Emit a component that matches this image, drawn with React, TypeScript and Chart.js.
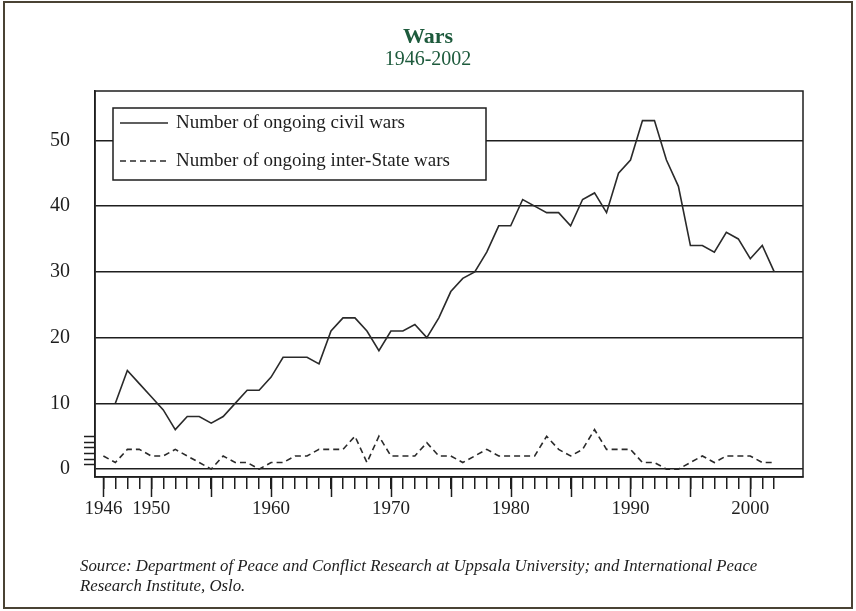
import React, { useEffect, useRef } from "react";
import { Chart, registerables } from "chart.js";

Chart.register(...registerables);

const years = [
  1946, 1947, 1948, 1949, 1950, 1951, 1952, 1953, 1954, 1955,
  1956, 1957, 1958, 1959, 1960, 1961, 1962, 1963, 1964, 1965,
  1966, 1967, 1968, 1969, 1970, 1971, 1972, 1973, 1974, 1975,
  1976, 1977, 1978, 1979, 1980, 1981, 1982, 1983, 1984, 1985,
  1986, 1987, 1988, 1989, 1990, 1991, 1992, 1993, 1994, 1995,
  1996, 1997, 1998, 1999, 2000, 2001, 2002,
];

const civilWars: (number | null)[] = [
  null, 10, 15, 13, 11, 9, 6, 8, 8, 7,
  8, 10, 12, 12, 14, 17, 17, 17, 16, 21,
  23, 23, 21, 18, 21, 21, 22, 20, 23, 27,
  29, 30, 33, 37, 37, 41, 40, 39, 39, 37,
  41, 42, 39, 45, 47, 53, 53, 47, 43, 34,
  34, 33, 36, 35, 32, 34, 30,
];

const interStateWars: number[] = [
  2, 1, 3, 3, 2, 2, 3, 2, 1, 0,
  2, 1, 1, 0, 1, 1, 2, 2, 3, 3,
  3, 5, 1, 5, 2, 2, 2, 4, 2, 2,
  1, 2, 3, 2, 2, 2, 2, 5, 3, 2,
  3, 6, 3, 3, 3, 1, 1, 0, 0, 1,
  2, 1, 2, 2, 2, 1, 1,
];

const yTickValues = [0, 10, 20, 30, 40, 50];
const xLabelYears = [1946, 1950, 1960, 1970, 1980, 1990, 2000];
const xMajorYears = [1946, 1950, 1955, 1960, 1965, 1970, 1975, 1980, 1985, 1990, 1995, 2000];
const breakTickValues = [5, 4.15, 3.3, 2.45, 1.6, 0.75];

const titleText = "Wars";
const subtitleText = "1946-2002";
const legendLabels = ["Number of ongoing civil wars", "Number of ongoing inter-State wars"];
const sourceLines = [
  "Source: Department of Peace and Conflict Research at Uppsala University; and International Peace",
  "Research Institute, Oslo.",
];

const SERIF = '"Liberation Serif", "DejaVu Serif", serif';
const INK = "#1e1e1e";
const GREEN = "#1d5a3c";

const decorPlugin = {
  id: "decor",
  beforeDraw(chart: any) {
    const ctx = chart.ctx;
    ctx.save();
    ctx.fillStyle = "#ffffff";
    ctx.fillRect(0, 0, chart.width, chart.height);
    ctx.restore();
  },
  afterDatasetsDraw(chart: any) {
    const ctx = chart.ctx;
    const a = chart.chartArea;
    ctx.save();
    const lx = a.left + 18, ly = a.top + 17, lw = 373, lh = 72;
    ctx.fillStyle = "#ffffff";
    ctx.fillRect(lx, ly, lw, lh);
    ctx.strokeStyle = INK;
    ctx.lineWidth = 1.5;
    ctx.strokeRect(lx, ly, lw, lh);
    const rows = [ly + 15, ly + 53];
    ctx.lineWidth = 1.6;
    ctx.strokeStyle = "#2a2a2a";
    ctx.beginPath();
    ctx.setLineDash([]);
    ctx.moveTo(lx + 7, rows[0]);
    ctx.lineTo(lx + 55, rows[0]);
    ctx.stroke();
    ctx.beginPath();
    ctx.setLineDash([6, 4]);
    ctx.moveTo(lx + 7, rows[1]);
    ctx.lineTo(lx + 55, rows[1]);
    ctx.stroke();
    ctx.setLineDash([]);
    ctx.fillStyle = INK;
    ctx.font = `19px ${SERIF}`;
    ctx.textBaseline = "middle";
    ctx.textAlign = "left";
    ctx.fillText(legendLabels[0], lx + 63, rows[0]);
    ctx.fillText(legendLabels[1], lx + 63, rows[1]);
    ctx.restore();
  },
  afterDraw(chart: any) {
    const ctx = chart.ctx;
    const a = chart.chartArea;
    const xs = chart.scales.x;
    const ys = chart.scales.y;
    ctx.save();
    ctx.strokeStyle = INK;
    ctx.lineWidth = 1.5;
    ctx.strokeRect(a.left, a.top, a.right - a.left, a.bottom - a.top);
    ctx.beginPath();
    for (const yr of xMajorYears) {
      const px = Math.round(xs.getPixelForValue(yr)) + 0.5;
      ctx.moveTo(px, a.bottom);
      ctx.lineTo(px, a.bottom + 20);
    }
    ctx.stroke();
    ctx.beginPath();
    for (const v of breakTickValues) {
      const py = Math.round(ys.getPixelForValue(v)) + 0.5;
      ctx.moveTo(a.left - 11, py);
      ctx.lineTo(a.left, py);
    }
    ctx.stroke();
    ctx.strokeStyle = "#4a4334";
    ctx.lineWidth = 2;
    ctx.strokeRect(4, 2, chart.width - 8, chart.height - 5);
    ctx.fillStyle = GREEN;
    ctx.textAlign = "center";
    ctx.textBaseline = "middle";
    ctx.font = `bold 22px ${SERIF}`;
    ctx.fillText(titleText, chart.width / 2, 37);
    ctx.font = `20px ${SERIF}`;
    ctx.fillText(subtitleText, chart.width / 2, 60);
    ctx.fillStyle = INK;
    ctx.textAlign = "left";
    ctx.font = `italic 16.8px ${SERIF}`;
    ctx.fillText(sourceLines[0], 80, 567);
    ctx.fillText(sourceLines[1], 80, 587);
    ctx.restore();
  },
};

export default function App() {
  const ref = useRef<HTMLCanvasElement | null>(null);
  useEffect(() => {
    if (!ref.current) return;
    const chart = new Chart(ref.current, {
      type: "line",
      data: {
        datasets: [
          {
            label: legendLabels[0],
            data: years.map((yr, i) => ({ x: yr, y: civilWars[i] })),
            borderColor: "#2a2a2a",
            borderWidth: 1.6,
            pointRadius: 0,
            tension: 0,
            spanGaps: false,
          },
          {
            label: legendLabels[1],
            data: years.map((yr, i) => ({ x: yr, y: interStateWars[i] })),
            borderColor: "#2a2a2a",
            borderWidth: 1.6,
            borderDash: [6, 4],
            pointRadius: 0,
            tension: 0,
          },
        ],
      },
      options: {
        responsive: false,
        animation: false,
        devicePixelRatio: 1,
        layout: { padding: { left: 0, right: 53, top: 91, bottom: 94 } },
        plugins: {
          legend: { display: false },
          title: { display: false },
          tooltip: { enabled: false },
        },
        scales: {
          x: {
            type: "linear",
            min: 1945.3,
            max: 2004.4,
            afterBuildTicks: (s: any) => {
              s.ticks = years.map((v) => ({ value: v }));
            },
            afterFit: (s: any) => {
              s.height = 40;
            },
            grid: {
              drawOnChartArea: false,
              drawTicks: true,
              tickLength: 12,
              color: INK,
              lineWidth: 1.5,
            },
            border: { display: true, color: INK, width: 1.5 },
            ticks: {
              autoSkip: false,
              maxRotation: 0,
              minRotation: 0,
              padding: 9,
              color: INK,
              font: { family: SERIF, size: 19 },
              callback: (v: any) => (xLabelYears.includes(Number(v)) ? String(v) : ""),
            },
          },
          y: {
            type: "linear",
            min: -1.2,
            max: 57.5,
            afterBuildTicks: (s: any) => {
              s.ticks = yTickValues.map((v) => ({ value: v }));
            },
            afterFit: (s: any) => {
              s.width = 95;
            },
            grid: {
              drawTicks: false,
              color: INK,
              lineWidth: 1.5,
            },
            border: { display: true, color: INK, width: 1.5 },
            ticks: {
              padding: 25,
              color: INK,
              font: { family: SERIF, size: 20 },
              callback: (v: any) => String(v),
            },
          },
        },
      },
      plugins: [decorPlugin],
    });
    return () => chart.destroy();
  }, []);
  return (
    <div style={{ position: "absolute", left: 0, top: 0, width: 856, height: 611 }}>
      <canvas ref={ref} width={856} height={611} style={{ width: 856, height: 611, display: "block" }} />
    </div>
  );
}
